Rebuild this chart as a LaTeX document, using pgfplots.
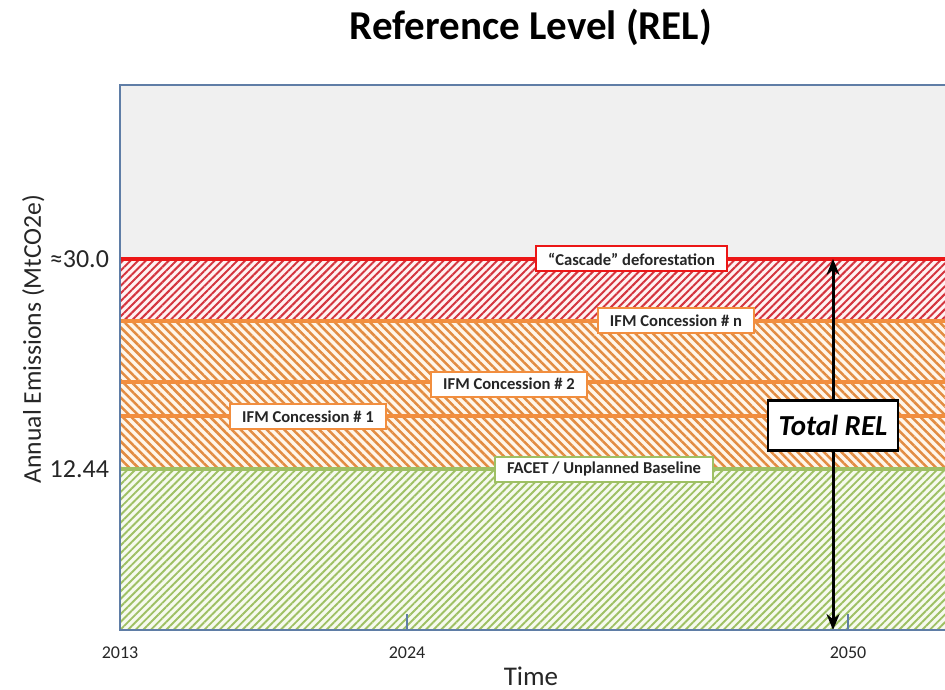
\documentclass[border=0pt]{standalone}
\usepackage{fontspec}
\setmainfont{Carlito}
\usepackage{pgfplots}
\pgfplotsset{compat=1.18}
\usetikzlibrary{patterns.meta, arrows.meta}

\definecolor{axisblue}{RGB}{95,125,166}
\definecolor{bggray}{RGB}{240,240,240}
\definecolor{relred}{RGB}{212,52,62}
\definecolor{linered}{RGB}{236,22,22}
\definecolor{redgap}{RGB}{255,242,242}
\definecolor{ifmorange}{RGB}{226,140,66}
\definecolor{ifmline}{RGB}{242,142,62}
\definecolor{orangegap}{RGB}{255,246,234}
\definecolor{facetgreen}{RGB}{158,192,100}
\definecolor{greengap}{RGB}{246,250,238}
\definecolor{txt}{RGB}{38,38,38}

\tikzset{
  lbl/.style={fill=white, line width=1pt, text=txt,
    font=\bfseries\fontsize{8.3}{10}\selectfont,
    inner xsep=6pt, inner ysep=2pt, minimum height=12.5pt},
}

\begin{document}
\begin{tikzpicture}
% visible window: the plot runs on past the right edge
\useasboundingbox (-60pt,-29.5pt) rectangle (412.5pt,315pt);
\begin{axis}[
    x=0.5pt, y=6.4706pt,
    xmin=0, xmax=850, ymin=0, ymax=42.11,
    enlargelimits=false,
    axis on top,
    axis background/.style={fill=bggray},
    axis line style={axisblue, line width=1pt},
    tick pos=left,
    xtick={0,287,728},
    xticklabels={2013,2024,2050},
    ytick={12.44,28.67},
    yticklabels={12.44,≈30.0},
    tick align=inside,
    major tick length=8pt,
    xtick style={axisblue, line width=0.8pt},
    ytick style={draw=none},
    /pgf/number format/assume math mode=true,
    xticklabel style={font=\fontsize{9}{10}\selectfont, text=txt, yshift=-5pt},
    yticklabel style={font=\fontsize{13}{15}\selectfont, text=txt, xshift=-2pt},
    title={\textbf{Reference Level (REL)}},
    title style={font=\fontsize{20.5}{24}\selectfont, at={(axis description cs:0.4835,1.084)}, anchor=center},
    xlabel={Time},
    xlabel style={font=\fontsize{13.5}{16}\selectfont, text=txt, at={(axis description cs:0.4835,-0.0844)}, anchor=center},
    ylabel={Annual Emissions (MtCO2e)},
    ylabel style={font=\fontsize{12.8}{15}\selectfont, text=txt, at={(axis description cs:-0.102,0.534)}, anchor=center},
]

% bands, top one first
\addplot[draw=none, fill=redgap,
    postaction={pattern={Lines[angle=45,distance=2.7pt,line width=1.0pt]}, pattern color=relred}]
    coordinates {(0,23.88) (850,23.88) (850,28.67) (0,28.67)};
\addplot[draw=none, fill=orangegap,
    postaction={pattern={Lines[angle=-45,distance=3.1pt,line width=1.25pt]}, pattern color=ifmorange}]
    coordinates {(0,12.44) (850,12.44) (850,23.88) (0,23.88)};
\addplot[draw=none, fill=greengap,
    postaction={pattern={Lines[angle=45,distance=2.7pt,line width=0.95pt]}, pattern color=facetgreen}]
    coordinates {(0,0) (850,0) (850,12.44) (0,12.44)};

% band boundaries
\addplot[ifmline, line width=2pt] coordinates {(0,16.54) (850,16.54)};
\addplot[ifmline, line width=2pt] coordinates {(0,19.16) (850,19.16)};
\addplot[ifmline, line width=2pt] coordinates {(0,23.88) (850,23.88)};
\addplot[facetgreen, line width=2pt] coordinates {(0,12.44) (850,12.44)};
\addplot[linered, line width=2pt] coordinates {(0,28.67) (850,28.67)};

% total REL arrow
\draw[black, line width=1.5pt, {Stealth[length=8pt,width=6.5pt]}-{Stealth[length=8pt,width=6.5pt]}]
    (axis cs:713,28.67) -- (axis cs:713,0);

\node[lbl, draw=linered] at (axis cs:511.5,28.67) {“Cascade” deforestation};
\node[lbl, draw=ifmline] at (axis cs:556,23.88) {IFM Concession \# n};
\node[lbl, draw=ifmline] at (axis cs:389,19.0) {IFM Concession \# 2};
\node[lbl, draw=ifmline] at (axis cs:188,16.46) {IFM Concession \# 1};
\node[lbl, draw=facetgreen] at (axis cs:484,12.44) {FACET / Unplanned Baseline};
\node[fill=white, draw=black, line width=1.2pt, text=black,
    font=\bfseries\itshape\fontsize{14.5}{17}\selectfont,
    minimum width=65pt, minimum height=25pt] at (axis cs:713,15.8) {Total REL};
\end{axis}
\end{tikzpicture}
\end{document}
